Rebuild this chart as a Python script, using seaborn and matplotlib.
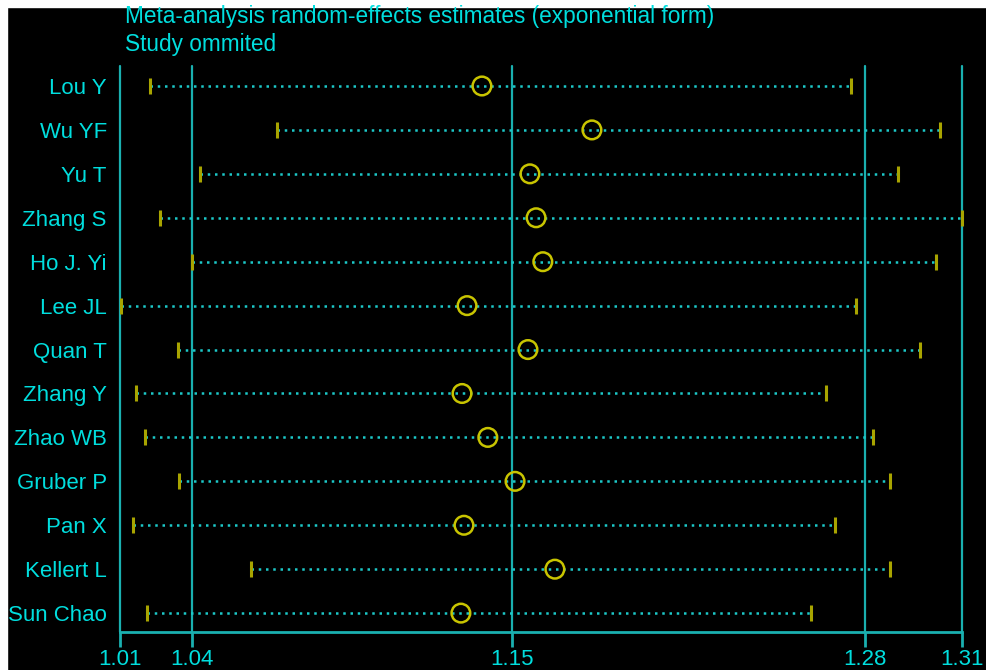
import numpy as np
import pandas as pd
import matplotlib
matplotlib.use("Agg")
import matplotlib.pyplot as plt
import seaborn as sns

# data (exponential form)
studies = ["Lou Y", "Wu YF", "Yu T", "Zhang S", "Ho J. Yi", "Lee JL", "Quan T",
           "Zhang Y", "Zhao WB", "Gruber P", "Pan X", "Kellert L", "Sun Chao"]
estimate = [1.1410, 1.1802, 1.1581, 1.1603, 1.1627, 1.1357, 1.1574,
            1.1339, 1.1431, 1.1528, 1.1346, 1.1670, 1.1335]
lower = [1.0227, 1.0680, 1.0405, 1.0263, 1.0377, 1.0124, 1.0327,
         1.0177, 1.0209, 1.0330, 1.0166, 1.0587, 1.0216]
upper = [1.2725, 1.3042, 1.2893, 1.3121, 1.3028, 1.2743, 1.2971,
         1.2636, 1.2804, 1.2864, 1.2668, 1.2864, 1.2583]

# reference lines / ticks: min lower, overall lower, overall est, overall upper, max upper
tick_values = [1.0120, 1.0377, 1.1517, 1.2775, 1.3121]
tick_labels = ["1.01", "1.04", "1.15", "1.28", "1.31"]

title_lines = ["Meta-analysis random-effects estimates (exponential form)",
               "Study ommited"]

df = pd.DataFrame({"study": studies, "est": estimate, "lo": lower, "hi": upper})
df["pos"] = np.arange(len(df))

TEXT = "#00DEDE"
VLINE = "#1AB0B0"
DOT = "#1CC8C8"
YEL = "#C8C400"
TICKYEL = "#A8A400"

sns.set_style("dark")
plt.rcParams["font.family"] = ["Liberation Sans", "DejaVu Sans"]

fig = plt.figure(figsize=(9.87, 6.70), dpi=100, facecolor="black")
# thin white margin on top and left, as in the reference
fig.patches.append(plt.Rectangle((0, 1 - 7 / 670), 1, 7 / 670,
                                 transform=fig.transFigure, color="white",
                                 zorder=-1))
fig.patches.append(plt.Rectangle((0, 0), 7 / 987, 1,
                                 transform=fig.transFigure, color="white",
                                 zorder=-1))

ax = fig.add_axes([120 / 987, 38 / 670, 842 / 987, 566 / 670])
ax.set_facecolor("black")

for v in tick_values:
    ax.axvline(v, color=VLINE, lw=1.6, zorder=1, clip_on=False)

ax.hlines(df["pos"], df["lo"], df["hi"], color=DOT, lw=1.8,
          linestyles=(0, (1, 1.9)), zorder=2)
ax.plot(df["lo"], df["pos"], ls="none", marker="|", ms=12, mew=2.2,
        color=TICKYEL, zorder=3, clip_on=False)
ax.plot(df["hi"], df["pos"], ls="none", marker="|", ms=12, mew=2.2,
        color=TICKYEL, zorder=3, clip_on=False)
sns.scatterplot(data=df, x="est", y="pos", ax=ax, s=180, marker="o",
                facecolor="none", edgecolor=YEL, linewidth=1.8, zorder=4,
                legend=False)

ax.set_xlim(tick_values[0], tick_values[-1])
ax.set_ylim(len(df) - 1 + 0.43, -0.455)
ax.set_xticks(tick_values)
ax.set_xticklabels(tick_labels)
ax.set_yticks(df["pos"])
ax.set_yticklabels(df["study"])
ax.set_xlabel("")
ax.set_ylabel("")
ax.grid(False)

for s in ["top", "right", "left"]:
    ax.spines[s].set_visible(False)
ax.spines["bottom"].set_visible(True)
ax.spines["bottom"].set_color(VLINE)
ax.spines["bottom"].set_linewidth(2)

ax.tick_params(axis="x", colors=VLINE, length=11, width=2, labelcolor=TEXT,
               labelsize=16, pad=1, direction="out", bottom=True)
ax.tick_params(axis="y", length=0, labelcolor=TEXT, labelsize=16, pad=9.5)

fig.text(125 / 987, 1 - 17 / 670, title_lines[0], color=TEXT, fontsize=16.3,
         va="center", ha="left")
fig.text(125 / 987, 1 - 44 / 670, title_lines[1], color=TEXT, fontsize=16.3,
         va="center", ha="left")

fig.savefig("out.png", dpi=100, facecolor="black")
